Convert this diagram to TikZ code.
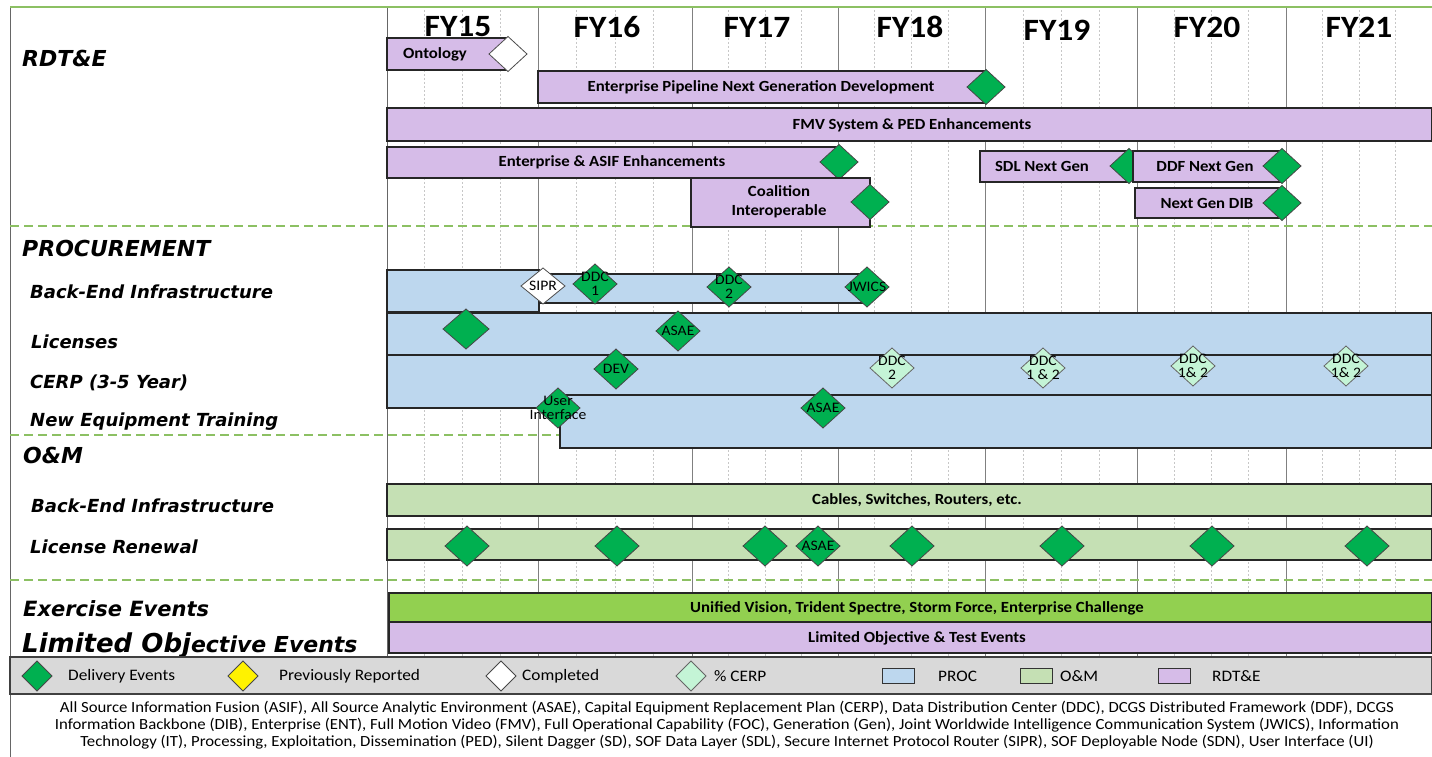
\documentclass[tikz,border=0pt]{standalone}
\usepackage{fontspec}
\setmainfont{Carlito}[FakeStretch=1.08]
\newfontfamily\lblfont{DejaVu Sans}
\usetikzlibrary{shapes.geometric}
\definecolor{rdte}{RGB}{214,188,232}
\definecolor{proc}{RGB}{189,215,238}
\definecolor{om}{RGB}{197,224,180}
\definecolor{exer}{RGB}{146,208,80}
\definecolor{dgreen}{RGB}{0,176,80}
\definecolor{lgreen}{RGB}{196,244,214}
\definecolor{legray}{RGB}{217,217,217}
\definecolor{dashgreen}{RGB}{140,192,99}
\definecolor{edge}{RGB}{38,38,38}
\tikzset{
  qline/.style={draw=black!22, line width=0.6pt, dash pattern=on 2pt off 2pt},
  yline/.style={draw=black!50, line width=0.9pt},
  sepline/.style={draw=black!60, line width=1pt},
  topline/.style={draw=dashgreen, line width=1.4pt},
  gdash/.style={draw=dashgreen, line width=1.4pt, dash pattern=on 9pt off 5pt},
  barbase/.style={draw=edge, line width=1.2pt, inner sep=0pt, outer sep=0pt, anchor=north west},
  bartext/.style={font=\fontsize{15.5}{17}\selectfont\bfseries, inner sep=0pt, align=center, text=black},
  fy/.style={font=\fontsize{31}{31}\selectfont\bfseries, inner sep=0pt},
  dmd/.style={diamond, draw=edge!85, line width=0.8pt, inner sep=0pt, outer sep=0pt, minimum width=44pt, minimum height=40pt, fill=dgreen},
  rdmd/.style={dmd, minimum width=38pt, minimum height=35pt},
  cdmd/.style={dmd, fill=lgreen, draw=black!60},
  wdmd/.style={dmd, fill=white, draw=black!70},
  dlbl/.style={font=\fontsize{14.5}{14}\selectfont, align=center, inner sep=0pt, text=black},
  mainlbl/.style={font=\lblfont\bfseries\itshape\fontsize{22}{22}\selectfont, inner sep=0pt, anchor=base west},
  sublbl/.style={font=\lblfont\bfseries\itshape\fontsize{18}{18}\selectfont, inner sep=0pt, anchor=base west},
  legbox/.style={draw=black!75, line width=1.2pt, fill=legray, inner sep=0pt, outer sep=0pt, anchor=north west},
  legtext/.style={font=\fontsize{16}{16}\selectfont, inner sep=0pt, anchor=west},
  legsq/.style={draw=black!80, line width=1pt, minimum width=32pt, minimum height=15pt, inner sep=0pt},
  legdmd/.style={dmd, minimum width=30pt, minimum height=30pt},
  foot/.style={font=\fontsize{15.5}{17.2}\selectfont, align=center, inner sep=0pt}
}
% \gbar{name}{style}{x1}{y1}{x2}{y2}
\newcommand\gbar[6]{\node[barbase,#2,minimum width={#5pt-#3pt},minimum height={#6pt-#4pt}] (#1) at (#3,#4) {};}
\begin{document}
\begin{tikzpicture}[x=1pt,y=-1pt]
\useasboundingbox (0,0) rectangle (1432,757);
\fill[white] (0,0) rectangle (1432,757);

% ---------- grid ----------
\foreach \a/\b in {387/538,538/692,692/838,838/985,985/1137,1137/1286,1286/1432}
  \foreach \k in {1,2,3}
    \draw[qline] ({\a+(\b-\a)*\k/4},10) -- ({\a+(\b-\a)*\k/4},656);
\foreach \x in {538,692,838,985,1137,1286}
  \draw[yline] (\x,7) -- (\x,656);
\draw[sepline] (387,7) -- (387,656);
\draw[sepline] (10,7) -- (10,757);
\draw[topline] (10,7) -- (1432,7);
\foreach \y in {226,435,580} \draw[gdash] (10,\y) -- (1432,\y);

% ---------- year headers ----------
\node[fy] (fy15) at (458,27) {FY15};
\node[fy] (fy16) at (607,27) {FY16};
\node[fy] (fy17) at (757,27) {FY17};
\node[fy] (fy18) at (910,27) {FY18};
\node[fy] (fy19) at (1057,30) {FY19};
\node[fy] (fy20) at (1207,27) {FY20};
\node[fy] (fy21) at (1359,27) {FY21};

% ---------- row labels ----------
\node[mainlbl] (lrdte) at (22,67) {RDT\&E};
\node[mainlbl] (lproc) at (22,256) {PROCUREMENT};
\node[sublbl] (lbei) at (30,298) {Back-End Infrastructure};
\node[sublbl] (llic) at (31,348) {Licenses};
\node[sublbl] (lcerp) at (30,388) {CERP (3-5 Year)};
\node[sublbl] (lnet) at (30,426) {New Equipment Training};
\node[mainlbl] (lom) at (23,463) {O\&M};
\node[sublbl] (lbei2) at (31,512) {Back-End Infrastructure};
\node[sublbl] (llren) at (30,553) {License Renewal};
\node[mainlbl, font=\lblfont\bfseries\itshape\fontsize{21}{21}\selectfont] (lexer) at (23,616) {Exercise Events};
\node[mainlbl] (lloe) at (22,652) {{\fontsize{26}{26}\selectfont Limited Obj}ective Events};

% ---------- RDT&E ----------
\gbar{ont}{fill=rdte}{387}{38}{508}{70}
\node[bartext] (ontt) at (435,54) {Ontology};
\node[rdmd, fill=white, draw=black!70] (ontd) at (508,54) {};

\gbar{epn}{fill=rdte}{538}{71}{986}{103}
\node[bartext] (epnt) at (761,87) {Enterprise Pipeline Next Generation Development};
\node[rdmd] (epnd) at (986,87) {};

\gbar{fmv}{fill=rdte}{387}{108}{1432}{141}
\node[bartext] (fmvt) at (912,125) {FMV System \& PED Enhancements};

\gbar{easif}{fill=rdte}{387}{147}{839}{178}
\node[bartext] (easift) at (612,162) {Enterprise \& ASIF Enhancements};
\node[rdmd] (easifd) at (839,162) {};

\gbar{coal}{fill=rdte}{691}{178}{870}{227}
\node[bartext, font=\fontsize{15.5}{19}\selectfont\bfseries] (coalt) at (779,202) {Coalition\\Interoperable};
\node[rdmd] (coald) at (870,202) {};

\gbar{sdl}{fill=rdte}{980}{151}{1128}{182}
\node[bartext] (sdlt) at (1042,166) {SDL Next Gen};
\node[rdmd] (sdld) at (1129,166) {};

\gbar{ddf}{fill=rdte}{1133}{151}{1282}{182}
\node[bartext] (ddft) at (1205,166) {DDF Next Gen};
\node[rdmd] (ddfd) at (1282,166) {};

\gbar{dib}{fill=rdte}{1135}{188}{1282}{218}
\node[bartext] (dibt) at (1207,203) {Next Gen DIB};
\node[rdmd] (dibd) at (1282,203) {};

% ---------- PROCUREMENT ----------
\gbar{bei}{fill=proc}{387}{270}{539}{312}
\gbar{bei2}{fill=proc}{539}{274}{869}{303}
\node[wdmd, minimum height=36pt, label={[dlbl]center:SIPR}] (sipr) at (543,286) {};
\node[dmd, label={[dlbl]center:{DDC\\1}}] (ddc1) at (595,284) {};
\node[dmd, label={[dlbl]center:{DDC\\2}}] (ddc2) at (729,287) {};
\node[dmd, label={[dlbl]center:JWICS}] (jwics) at (867,287) {};

\gbar{lic}{fill=proc}{387}{313}{1432}{355}
\node[dmd, minimum width=46pt] (licd) at (466,329) {};
\node[dmd, label={[dlbl]center:ASAE}] (licasae) at (678,331) {};

\gbar{cerp}{fill=proc}{387}{355}{1432}{408}
\node[dmd, label={[dlbl]center:DEV}] (dev) at (616,369) {};
\node[cdmd, label={[dlbl]center:{DDC\\2}}] (c18) at (892,368) {};
\node[cdmd, label={[dlbl]center:{DDC\\1 \& 2}}] (c19) at (1043,368) {};
\node[cdmd, label={[dlbl]center:{DDC\\1\& 2}}] (c20) at (1193,366) {};
\node[cdmd, label={[dlbl]center:{DDC\\1\& 2}}] (c21) at (1346,366) {};

\gbar{net}{fill=proc}{560}{395}{1432}{448}
\node[dmd, label={[dlbl]center:{User\\Interface}}] (ui) at (558,408) {};
\node[dmd, label={[dlbl]center:ASAE}] (netasae) at (823,408) {};

% ---------- O&M ----------
\gbar{cables}{fill=om}{387}{484}{1432}{516}
\node[bartext] (cablest) at (917,500) {Cables, Switches, Routers, etc.};

\gbar{lren}{fill=om}{387}{529}{1432}{560}
\foreach \x [count=\i] in {467,617,765,912,1062,1212,1367}
  \node[dmd] (lr\i) at (\x,546) {};
\node[dmd, label={[dlbl]center:ASAE}] (lrasae) at (818,546) {};

% ---------- events ----------
\gbar{exer}{fill=exer}{389}{593}{1432}{622}
\node[bartext] (exert) at (917,608) {Unified Vision, Trident Spectre, Storm Force, Enterprise Challenge};
\gbar{loe}{fill=rdte}{389}{622}{1432}{653}
\node[bartext] (loet) at (917,638) {Limited Objective \& Test Events};

% ---------- legend ----------
\node[legbox, minimum width=1422pt, minimum height=37pt] (legend) at (10,657) {};
\node[legdmd] (lg1) at (37,676) {};
\node[legtext] (lg1t) at (68,676) {Delivery Events};
\node[legdmd, fill=yellow] (lg2) at (243,676) {};
\node[legtext] (lg2t) at (279,676) {Previously Reported};
\node[legdmd, fill=white] (lg3) at (501,676) {};
\node[legtext] (lg3t) at (522,676) {Completed};
\node[legdmd, fill=lgreen, draw=black!60] (lg4) at (691,676) {};
\node[legtext] (lg4t) at (714,676) {\% CERP};
\node[legsq, fill=proc] (lg5) at (898,676) {};
\node[legtext] (lg5t) at (938,676) {PROC};
\node[legsq, fill=om] (lg6) at (1036,676) {};
\node[legtext] (lg6t) at (1060,676) {O\&M};
\node[legsq, fill=rdte] (lg7) at (1174,676) {};
\node[legtext] (lg7t) at (1212,676) {RDT\&E};

% ---------- footnote ----------
\node[foot] (footnote) at (727,725) {All Source Information Fusion (ASIF), All Source Analytic Environment (ASAE), Capital Equipment Replacement Plan (CERP), Data Distribution Center (DDC), DCGS Distributed Framework (DDF), DCGS\\
Information Backbone (DIB), Enterprise (ENT), Full Motion Video (FMV), Full Operational Capability (FOC), Generation (Gen), Joint Worldwide Intelligence Communication System (JWICS), Information\\
Technology (IT), Processing, Exploitation, Dissemination (PED), Silent Dagger (SD), SOF Data Layer (SDL), Secure Internet Protocol Router (SIPR), SOF Deployable Node (SDN), User Interface (UI)};
\end{tikzpicture}
\end{document}
